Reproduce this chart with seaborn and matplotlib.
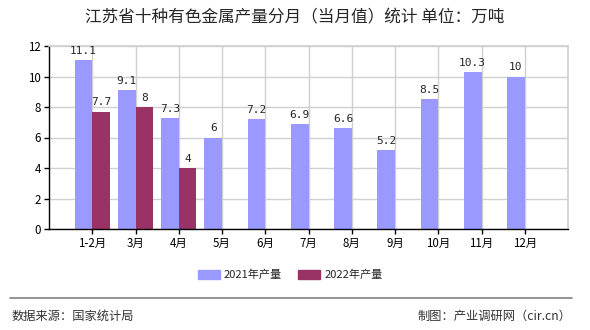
import matplotlib
matplotlib.use("Agg")
import matplotlib.pyplot as plt
import seaborn as sns
import pandas as pd
import numpy as np
from matplotlib.lines import Line2D

categories = ["1-2月", "3月", "4月", "5月", "6月", "7月", "8月", "9月", "10月", "11月", "12月"]
values_2021 = [11.1, 9.1, 7.3, 6, 7.2, 6.9, 6.6, 5.2, 8.5, 10.3, 10]
values_2022 = [7.7, 8, 4, None, None, None, None, None, None, None, None]
series_names = ["2021年产量", "2022年产量"]
title = "江苏省十种有色金属产量分月（当月值）统计 单位：万吨"
source_left = "数据来源：国家统计局"
source_right = "制图：产业调研网（cir.cn）"

sns.set_theme(style="white")
plt.rcParams['font.family'] = ['Noto Sans CJK SC', 'DejaVu Sans']

rows = []
for c, v in zip(categories, values_2021):
    rows.append({"月份": c, "产量": v, "系列": series_names[0]})
for c, v in zip(categories, values_2022):
    rows.append({"月份": c, "产量": np.nan if v is None else v, "系列": series_names[1]})
df = pd.DataFrame(rows)

colors = ["#9999FF", "#993366"]
fig = plt.figure(figsize=(5.9, 3.3), dpi=100)
ax = fig.add_axes([49/590, 1 - 229/330, (568-49)/590, (229-46)/330])
sns.barplot(data=df, x="月份", y="产量", hue="系列", palette=colors, ax=ax,
            width=0.82, saturation=1, legend=False, order=categories,
            linewidth=0, edgecolor="none")

ax.set_xlim(-1, len(categories))
ax.set_ylim(0, 12)
ax.set_yticks([0, 2, 4, 6, 8, 10, 12])
ax.set_xlabel("")
ax.set_ylabel("")
ax.grid(True, color="#d0d0d0", linewidth=1)
ax.set_axisbelow(True)
for s in ["top", "right"]:
    ax.spines[s].set_color("#d0d0d0")
for s in ["left", "bottom"]:
    ax.spines[s].set_color("black")
    ax.spines[s].set_linewidth(1)
ax.tick_params(axis="both", which="both", length=3.6, width=1, color="black",
               labelsize=8.3, direction="out", bottom=True, left=True, pad=2,
               labelcolor="black")
ax.set_xticks(range(len(categories)))
ax.set_xticklabels(categories)

for cont in ax.containers:
    labels = []
    for v in cont.datavalues:
        if np.isnan(v):
            labels.append("")
        else:
            labels.append(f"{v:g}")
    ax.bar_label(cont, labels=labels, padding=3, fontsize=8,
                 family=['DejaVu Sans Mono'])

fig.text(0.5, 1 - 18/330, title, ha="center", va="center", fontsize=12)

handles = [plt.Rectangle((0, 0), 1, 1, color=c) for c in colors]
fig.legend(handles, series_names, loc="center", bbox_to_anchor=(290/590, 1 - 275/330),
           ncol=2, frameon=False, fontsize=8, handlelength=2.0, handleheight=0.8,
           columnspacing=1.45, handletextpad=0.36)

fig.add_artist(Line2D([10/590, 572/590], [1 - 298/330, 1 - 298/330],
                      color="#808080", linewidth=1.2, transform=fig.transFigure))
fig.text(12/590, 1 - 316/330, source_left, ha="left", va="center", fontsize=8.8, color="#333333")
fig.text(571/590, 1 - 316/330, source_right, ha="right", va="center", fontsize=8.8, color="#333333")

fig.savefig("out.png", dpi=100)
